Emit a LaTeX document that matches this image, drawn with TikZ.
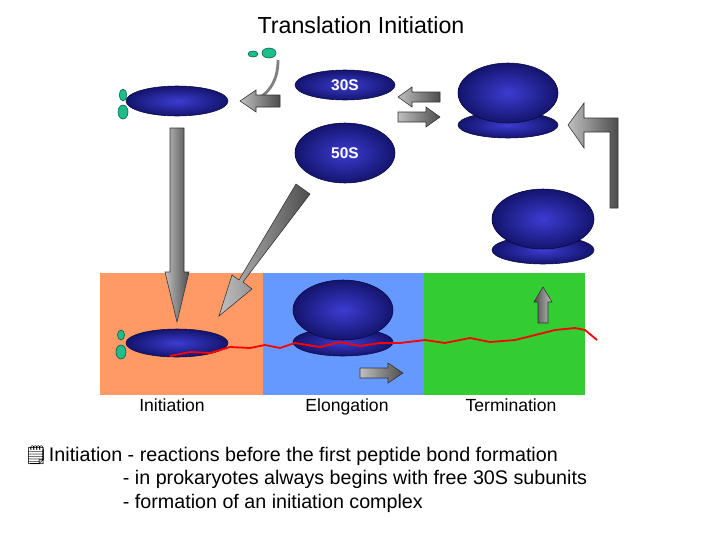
\documentclass[tikz,border=0pt]{standalone}
\usepackage{fontspec}
\setmainfont{Liberation Sans}
\newfontfamily\emo{Noto Emoji}
\definecolor{ribin}{RGB}{60,60,210}
\definecolor{ribout}{RGB}{20,20,110}
\definecolor{ribdraw}{RGB}{10,10,60}
\definecolor{grnf}{RGB}{30,190,140}
\definecolor{grnd}{RGB}{0,90,60}
\definecolor{porange}{RGB}{255,153,102}
\definecolor{pblue}{RGB}{102,153,255}
\definecolor{pgreen}{RGB}{51,204,51}
\begin{document}
\begin{tikzpicture}[x=0.025cm,y=-0.025cm,
 rib/.style={shading=radial,inner color=ribin,outer color=ribout,draw=ribdraw,line width=0.4pt},
 grn/.style={fill=grnf,draw=grnd,line width=0.4pt},
 arr/.style={left color=gray!50,right color=black!70,draw=black!80,line width=0.4pt},
 lbl/.style={text=white,font=\bfseries\fontsize{11}{13}\selectfont},
 panelcap/.style={anchor=base,font=\fontsize{12.5}{14}\selectfont},
 txt/.style={anchor=base west,font=\fontsize{14}{16}\selectfont}]
\useasboundingbox (0,0) rectangle (720,540);
\node (title) at (361,25) {\fontsize{16.5}{19}\selectfont Translation Initiation};
% panels
\fill[porange] (100,273) rectangle (263,395);
\fill[pblue] (263,273) rectangle (424,395);
\fill[pgreen] (424,273) rectangle (585,395);
% top-left complex
\path[rib] (177,101) ellipse [x radius=51,y radius=15];
\path[grn] (123,95) ellipse [x radius=3.5,y radius=6];
\path[grn] (123,112) ellipse [x radius=5,y radius=7];
% factors and curve
\path[grn] (253,54) ellipse [x radius=5,y radius=3];
\path[grn] (269,53) ellipse [x radius=7,y radius=5];
\draw[gray,line width=2pt] (278,60) .. controls (278,80) and (270,90) .. (262,96);
\path[arr] (280,95) -- (256,95) -- (256,90) -- (240,101) -- (256,112) -- (256,107) -- (280,107) -- cycle;
% 30S 50S
\path[rib] (345,85) ellipse [x radius=50,y radius=15];
\node[lbl] (s30) at (345,85) {30S};
\path[rib] (345,153) ellipse [x radius=50,y radius=30];
\node[lbl] (s50) at (345,153) {50S};
% exchange arrows
\path[arr] (440,92) -- (412,92) -- (412,87) -- (398,97) -- (412,107) -- (412,102) -- (440,102) -- cycle;
\path[arr] (398,112) -- (426,112) -- (426,107) -- (440,117) -- (426,127) -- (426,122) -- (398,122) -- cycle;
% top-right ribosome
\path[rib] (508,125) ellipse [x radius=50,y radius=13];
\path[rib] (508,93) ellipse [x radius=50,y radius=30];
% elbow arrow
\path[arr] (618,208) -- (618,118) -- (584,118) -- (584,103) -- (568,125) -- (584,148) -- (584,132) -- (610,132) -- (610,208) -- cycle;
% second ribosome
\path[rib] (543,250) ellipse [x radius=51,y radius=14];
\path[rib] (543,219) ellipse [x radius=51,y radius=30];
% down arrow
\path[arr] (170,128) -- (184,128) -- (184,272) -- (189,272) -- (177,322) -- (165,272) -- (170,272) -- cycle;
% diagonal arrow
\path[arr] (296,184) -- (310,194) -- (243,282) -- (252,289) -- (219,316) -- (232,275) -- (239,280) -- cycle;
% initiation complex
\path[rib] (177,343) ellipse [x radius=51,y radius=14];
\path[grn] (121,335) ellipse [x radius=3.5,y radius=5];
\path[grn] (121,352) ellipse [x radius=5,y radius=7];
% elongation
\path[rib] (343,342) ellipse [x radius=50,y radius=14];
\path[rib] (343,310) ellipse [x radius=50,y radius=30];
% mRNA
\draw[red,line width=1.3pt] (170,356) -- (190,352) -- (210,353) -- (230,347) -- (250,348) -- (265,345) -- (280,348) -- (295,343) -- (320,347) -- (340,342) -- (360,346) -- (380,343) -- (400,343) -- (425,340) -- (445,343) -- (470,338) -- (490,342) -- (515,340) -- (535,335) -- (555,330) -- (575,328) -- (585,330) -- (597,340);
% small arrows
\path[arr] (360,368) -- (388,368) -- (388,363) -- (403,373) -- (388,383) -- (388,378) -- (360,378) -- cycle;
\path[arr,left color=black!70,right color=gray!50] (538,323) -- (538,302) -- (534,302) -- (543,287) -- (552,302) -- (548,302) -- (548,323) -- cycle;
% labels
\node[panelcap] (l1) at (172,411) {Initiation};
\node[panelcap] (l2) at (347,411) {Elongation};
\node[panelcap] (l3) at (511,411) {Termination};
% text
\node[anchor=base] (b) at (36,461) {\emo\fontsize{13}{15}\selectfont 🗒};
\node[txt] (t1) at (44,461) {Initiation - reactions before the first peptide bond formation};
\node[txt] (t2) at (118,484) {- in prokaryotes always begins with free 30S subunits};
\node[txt] (t3) at (118,508) {- formation of an initiation complex};
\end{tikzpicture}
\end{document}
